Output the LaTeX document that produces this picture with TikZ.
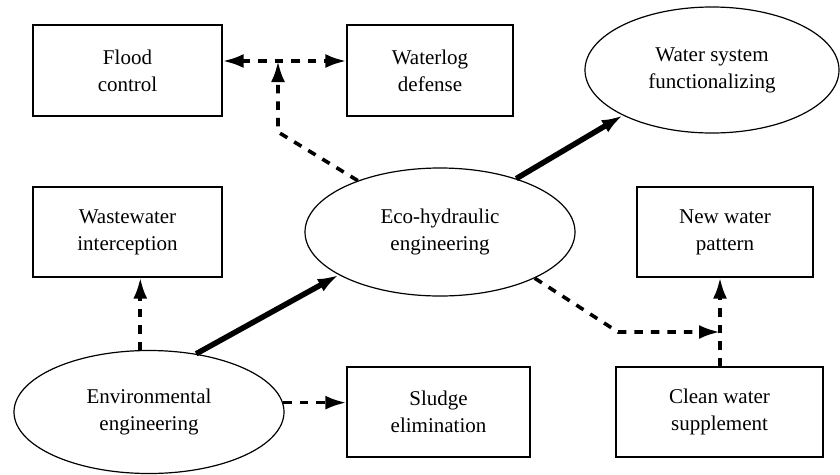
\documentclass[tikz,border=0pt]{standalone}
\usepackage{fontspec}
\setmainfont{Liberation Serif}
\newfontfamily\labelfont{Liberation Serif}
\usetikzlibrary{arrows.meta,shapes.geometric}

\begin{document}
\begin{tikzpicture}[x=1pt, y=-1pt, >={Latex[length=21pt,width=14pt]},
    font=\labelfont\fontsize{21}{27}\selectfont,
    box/.style={draw, line width=1.2pt, align=center, inner sep=0pt},
    oval/.style={draw, ellipse, line width=1.2pt, align=center, inner sep=0pt},
    link/.style={->, line width=3.6pt, dash pattern=on 8.5pt off 8pt},
    main/.style={->, line width=5.5pt}]
    \useasboundingbox (0,0) rectangle (840,474);
    \node[box, minimum width=189pt, minimum height=91pt] (flood) at (127.5,70.5) {Flood\\control};
    \node[box, minimum width=166pt, minimum height=91pt] (waterlog) at (430,70.5) {Waterlog\\defense};
    \node[oval, minimum width=254pt, minimum height=126pt] (water) at (712,70) {Water system\\functionalizing};
    \node[oval, minimum width=270pt, minimum height=128pt] (eco) at (440,232) {Eco-hydraulic\\engineering};
    \node[box, minimum width=189pt, minimum height=90pt] (ww) at (127.5,232) {Wastewater\\interception};
    \node[box, minimum width=176pt, minimum height=90pt] (new) at (725,232) {New water\\pattern};
    \node[oval, minimum width=270pt, minimum height=123pt] (env) at (149,412) {Environmental\\engineering};
    \node[box, minimum width=183pt, minimum height=90pt] (sludge) at (438.5,412) {Sludge\\elimination};
    \node[box, minimum width=207pt, minimum height=90pt] (clean) at (719.5,412) {Clean water\\supplement};
    \coordinate (kinkA) at (278,132);
    \coordinate (junA) at (278,61);
    \coordinate (kinkB) at (618,332);
    \coordinate (junB) at (720,332);
    \draw[link, <->] (flood.east |- junA) -- (waterlog.west |- junA);
    \draw[link] (eco.148) -- (kinkA) -- (junA);
    \draw[main] (eco.35) -- (water.207);
    \draw[main] (env.51) -- (eco.203);
    \draw[link] (env.98) -- (env.98 |- ww.south);
    \draw[link] (env.4) -- (env.4 -| sludge.west);
    \draw[link] (eco.334) -- (kinkB) -- (junB);
    \draw[link] (clean.north -| junB) -- (new.south -| junB);
\end{tikzpicture}
\end{document}
